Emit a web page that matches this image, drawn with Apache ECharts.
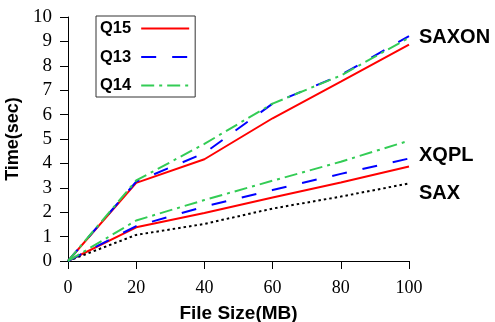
<!DOCTYPE html>
<html>
<head>
<meta charset="utf-8">
<script src="https://cdn.jsdelivr.net/npm/echarts@6/dist/echarts.min.js"></script>
<style>html,body{margin:0;padding:0;background:#fff}#c{width:495px;height:322px}</style>
</head>
<body>
<div id="c"></div>
<script>
const fileSizes = [0, 20, 40, 60, 80, 100];
const xTicks = [0, 20, 40, 60, 80, 100];
const yTicks = [0, 1, 2, 3, 4, 5, 6, 7, 8, 9, 10];
const saxonQ15 = [0, 3.2, 4.17, 5.85, 7.35, 8.87];
const saxonQ13 = [0, 3.25, 4.42, 6.45, 7.62, 9.22];
const saxonQ14 = [0, 3.3, 4.8, 6.45, 7.6, 9.15];
const xqplQ15 = [0, 1.38, 1.97, 2.6, 3.22, 3.87];
const xqplQ13 = [0, 1.43, 2.23, 2.91, 3.57, 4.2];
const xqplQ14 = [0, 1.66, 2.5, 3.29, 4.07, 4.93];
const saxValues = [0, 1.07, 1.52, 2.15, 2.64, 3.18];
const groupLabels = ['SAXON', 'XQPL', 'SAX'];
const legendNames = ['Q15', 'Q13', 'Q14'];

const pts = v => fileSizes.map((x, i) => [x, v[i]]);
const serif = "'Liberation Serif', 'Times New Roman', serif";
const sans = "'Liberation Sans', Arial, sans-serif";
const styles = {
  Q15: {color: '#ff0000', width: 2, type: 'solid'},
  Q13: {color: '#0000ff', width: 2, type: [15, 16]},
  Q14: {color: '#33cc55', width: 2, type: [13, 5, 3, 5]}
};
function mk(name, vals, endText, offY) {
  const s = {
    name: name, type: 'line', data: pts(vals), symbol: 'none', showSymbol: false,
    lineStyle: Object.assign({}, styles[name]), itemStyle: {color: styles[name].color},
    z: name === 'Q15' ? 3 : (name === 'Q13' ? 4 : 5), animation: false
  };
  if (endText) {
    s.endLabel = {show: true, formatter: endText, distance: 10, offset: [0, offY],
      color: '#000', fontFamily: sans, fontWeight: 'bold', fontSize: 20};
  }
  return s;
}
const series = [
  mk('Q15', saxonQ15), mk('Q13', saxonQ13, groupLabels[0], 1), mk('Q14', saxonQ14),
  mk('Q15', xqplQ15), mk('Q13', xqplQ13), mk('Q14', xqplQ14, groupLabels[1], 15),
  {name: 'SAX', type: 'line', data: pts(saxValues), symbol: 'none', showSymbol: false, animation: false,
   lineStyle: {color: '#000', width: 2, type: [2.5, 3]}, itemStyle: {color: '#000'},
   endLabel: {show: true, formatter: groupLabels[2], distance: 10, offset: [0, 10],
     color: '#000', fontFamily: sans, fontWeight: 'bold', fontSize: 20}}
];

const chart = echarts.init(document.getElementById('c'), null, {renderer: 'canvas'});
chart.setOption({
  animation: false,
  grid: {left: 68, top: 17, right: 86, bottom: 61, containLabel: false, outerBoundsMode: 'none'},
  legend: {
    data: legendNames, orient: 'vertical', left: 96, top: 16, align: 'right',
    itemWidth: 48, itemHeight: 14, itemGap: 11.5,
    itemStyle: {opacity: 0},
    padding: [4, 5, 3, 4], borderColor: '#333', borderWidth: 1,
    textStyle: {fontFamily: sans, fontWeight: 'bold', fontSize: 16.5, color: '#000', padding: [0, 5, 0, 0]}
  },
  xAxis: {
    type: 'value', min: 0, max: 100, interval: 20,
    name: 'File Size(MB)', nameLocation: 'middle', nameGap: 43,
    nameTextStyle: {fontFamily: sans, fontWeight: 'bold', fontSize: 19, color: '#000'},
    axisLine: {show: true, lineStyle: {color: '#000', width: 1}},
    axisTick: {show: true, length: 8, lineStyle: {color: '#000'}},
    axisLabel: {margin: 18, fontFamily: serif, fontSize: 18, color: '#000',
      formatter: v => xTicks.includes(v) ? String(v) : ''},
    splitLine: {show: false}
  },
  yAxis: {
    type: 'value', min: 0, max: 10, interval: 1,
    name: 'Time(sec)', nameLocation: 'middle', nameGap: 37, nameRotate: 90,
    nameTextStyle: {fontFamily: sans, fontWeight: 'bold', fontSize: 18, color: '#000'},
    axisLine: {show: true, lineStyle: {color: '#000', width: 1}},
    axisTick: {show: true, length: 8, lineStyle: {color: '#000'}},
    axisLabel: {margin: 16, fontFamily: serif, fontSize: 19, color: '#000',
      formatter: v => yTicks.includes(v) ? String(v) : ''},
    splitLine: {show: false}
  },
  series: series
});
</script>
</body>
</html>
